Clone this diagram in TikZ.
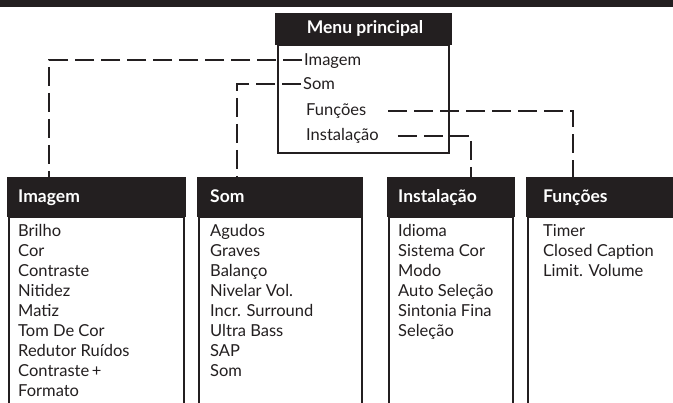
\documentclass[tikz,border=0pt]{standalone}
\usepackage{fontspec}
\setmainfont{Lato}
\definecolor{ink}{HTML}{231F20}
\begin{document}
\begin{tikzpicture}[x=1pt,y=-1pt,
  hdr/.style={fill=ink, draw=none, anchor=north west, inner sep=0, outer sep=0},
  body/.style={draw=ink, line width=1.6pt, fill=white, anchor=north west, inner sep=0, outer sep=0},
  htxt/.style={text=white, font=\fontsize{17.5}{20}\selectfont\bfseries, anchor=base west, inner sep=0},
  itxt/.style={text=ink, font=\fontsize{16.5}{20}\selectfont, anchor=base west, inner sep=0},
  conn/.style={draw=ink, line width=1.5pt, dash pattern=on 19pt off 7pt}]
\useasboundingbox (0,0) rectangle (673,403);
\clip (0,0) rectangle (673,403);
\fill[ink] (0,0) rectangle (673,7.5);
% menu principal
\node[body, minimum width=171, minimum height=108] (menuB) at (278,45) {};
\node[hdr, minimum width=177, minimum height=32] (menuH) at (275,13) {};
\node[htxt, anchor=base] (menuT) at (365,34) {Menu principal};
\node[itxt] (mImg) at (304,66) {Imagem};
\node[itxt] (mSom) at (303,90) {Som};
\node[itxt] (mFun) at (306,116) {Funções};
\node[itxt] (mIns) at (306,141) {Instalação};
% child boxes
\node[body, minimum width=175, minimum height=220] (imgB) at (8.8,217) {};
\node[hdr, minimum width=179, minimum height=40] (imgH) at (7,177) {};
\node[htxt] (imgT) at (18,203) {Imagem};
\node[body, minimum width=163, minimum height=220] (somB) at (198.8,217) {};
\node[hdr, minimum width=166, minimum height=40] (somH) at (197,177) {};
\node[htxt] (somT) at (210,203) {Som};
\node[body, minimum width=124, minimum height=220] (insB) at (388.8,217) {};
\node[hdr, minimum width=128, minimum height=40] (insH) at (387,177) {};
\node[htxt] (insT) at (398,203) {Instalação};
\node[body, minimum width=160, minimum height=220] (funB) at (527.8,217) {};
\node[hdr, minimum width=160, minimum height=40] (funH) at (526,177) {};
\node[htxt] (funT) at (543,203) {Funções};
% lists
\foreach \t [count=\i from 0] in {Brilho,Cor,Contraste,Nitidez,Matiz,Tom De Cor,Redutor Ruídos,Contraste\,+,Formato}
  \node[itxt] (img\i) at (18,237+20*\i) {\t};
\foreach \t [count=\i from 0] in {Agudos,Graves,Balanço,Nivelar Vol.,Incr. Surround,Ultra Bass,SAP,Som}
  \node[itxt] (som\i) at (210,237+20*\i) {\t};
\foreach \t [count=\i from 0] in {Idioma,Sistema Cor,Modo,Auto Seleção,Sintonia Fina,Seleção}
  \node[itxt] (ins\i) at (398,237+20*\i) {\t};
\foreach \t [count=\i from 0] in {Timer,Closed Caption,Limit. Volume}
  \node[itxt] (fun\i) at (543,237+20*\i) {\t};
% connectors
\coordinate (cImg) at ([xshift=42]imgH.north west);
\coordinate (cSom) at ([xshift=40]somH.north west);
\coordinate (cIns) at ([xshift=84]insH.north west);
\coordinate (cFun) at ([xshift=47]funH.north west);
\draw[conn] ([xshift=-2,yshift=6]mImg.base west) -| (cImg);
\draw[conn] ([xshift=-2,yshift=6]mSom.base west) -| (cSom);
\draw[conn] ([xshift=22,yshift=5]mFun.base east) -| (cFun);
\draw[conn] ([xshift=19,yshift=5]mIns.base east) -| (cIns);
\end{tikzpicture}
\end{document}
